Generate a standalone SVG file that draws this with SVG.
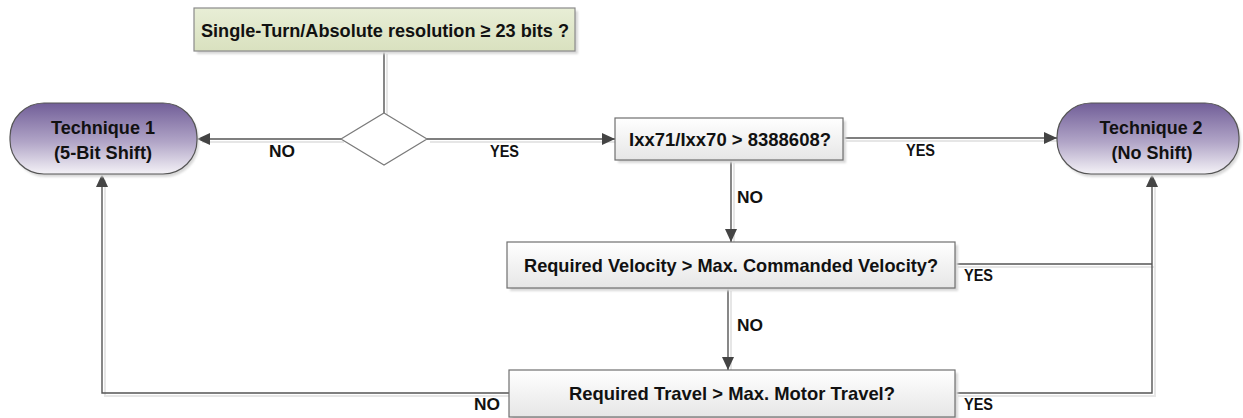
<svg xmlns="http://www.w3.org/2000/svg" width="1243" height="418" viewBox="0 0 1243 418">
  <style>
    .txt { font-family: "Liberation Sans", Arial, sans-serif; font-weight: bold; fill: #111; }
    .node { font-size: 19px; text-anchor: middle; }
    .lbl { font-size: 16px; }
    .box { fill: url(#gBox); stroke: #6f6f6f; stroke-width: 1.2; }
    .term { fill: url(#gTerm); stroke: #555; stroke-width: 1.2; }
    .shadow { fill: #d8d8d8; filter: url(#soft); }
    .wire { fill: none; stroke: #555; stroke-width: 1.4; }
    .wire-sh { fill: none; stroke: #e6e6e6; stroke-width: 2; }
  </style>
  <defs>
    <linearGradient id="gBox" x1="0" y1="0" x2="0" y2="1">
      <stop offset="0" stop-color="#ffffff"/>
      <stop offset="1" stop-color="#e6e6e6"/>
    </linearGradient>
    <linearGradient id="gTerm" x1="0" y1="0" x2="0" y2="1">
      <stop offset="0" stop-color="#715e98"/>
      <stop offset="0.55" stop-color="#b1a5c7"/>
      <stop offset="1" stop-color="#f4f2f7"/>
    </linearGradient>
    <linearGradient id="gTop" x1="0" y1="0" x2="0" y2="1">
      <stop offset="0" stop-color="#e8eed6"/>
      <stop offset="1" stop-color="#d9e1bf"/>
    </linearGradient>
    <filter id="soft" x="-5%" y="-20%" width="110%" height="140%">
      <feGaussianBlur stdDeviation="1.2"/>
    </filter>
    <marker id="arrow" markerUnits="userSpaceOnUse" markerWidth="14" markerHeight="12" viewBox="0 0 14 12" refX="13" refY="6" orient="auto">
      <path d="M0,0 L13,6 L0,12 Z" fill="#444"/>
    </marker>
  </defs>

  <!-- connectors (soft shadow pass first, then the lines) -->
  <g id="connectors">
    <g transform="translate(3,3)">
      <path class="wire-sh" d="M384,51 V113"/>
      <path class="wire-sh" d="M341,139 H199"/>
      <path class="wire-sh" d="M427,139 H612"/>
      <path class="wire-sh" d="M843,138 H1054"/>
      <path class="wire-sh" d="M731,160 V239"/>
      <path class="wire-sh" d="M728,288 V367"/>
      <path class="wire-sh" d="M955,264 H1152"/>
      <path class="wire-sh" d="M955,393 H1152 V177"/>
      <path class="wire-sh" d="M509,393 H102 V177"/>
    </g>
    <path class="wire" d="M384,51 V113"/>
    <path class="wire" d="M341,139 H197" marker-end="url(#arrow)"/>
    <path class="wire" d="M427,139 H615" marker-end="url(#arrow)"/>
    <path class="wire" d="M843,138 H1057" marker-end="url(#arrow)"/>
    <path class="wire" d="M731,160 V242" marker-end="url(#arrow)"/>
    <path class="wire" d="M728,288 V370" marker-end="url(#arrow)"/>
    <path class="wire" d="M955,264 H1152"/>
    <path class="wire" d="M955,393 H1152 V174" marker-end="url(#arrow)"/>
    <path class="wire" d="M509,393 H102 V174" marker-end="url(#arrow)"/>

    <text class="txt lbl" x="269" y="157" textLength="26" lengthAdjust="spacingAndGlyphs">NO</text>
    <text class="txt lbl" x="490" y="157" textLength="29" lengthAdjust="spacingAndGlyphs">YES</text>
    <text class="txt lbl" x="906" y="156" textLength="29" lengthAdjust="spacingAndGlyphs">YES</text>
    <text class="txt lbl" x="737" y="203" textLength="26" lengthAdjust="spacingAndGlyphs">NO</text>
    <text class="txt lbl" x="964" y="281" textLength="29" lengthAdjust="spacingAndGlyphs">YES</text>
    <text class="txt lbl" x="737" y="331" textLength="26" lengthAdjust="spacingAndGlyphs">NO</text>
    <text class="txt lbl" x="964" y="410" textLength="29" lengthAdjust="spacingAndGlyphs">YES</text>
    <text class="txt lbl" x="474" y="410" textLength="26" lengthAdjust="spacingAndGlyphs">NO</text>
  </g>

  <!-- start question -->
  <g id="start">
    <rect class="shadow" x="197" y="11" width="381" height="43"/>
    <rect x="194" y="8" width="381" height="43" fill="url(#gTop)" stroke="#8a8a8a" stroke-width="1.2"/>
    <text class="txt node" x="385" y="37" textLength="368" lengthAdjust="spacingAndGlyphs">Single-Turn/Absolute resolution ≥ 23 bits ?</text>
  </g>

  <!-- decision diamond -->
  <g id="decision">
    <path d="M384,113 L427,139 L384,165 L341,139 Z" fill="#ffffff" stroke="#7a7a7a" stroke-width="1.2"/>
  </g>

  <!-- terminal: technique 1 -->
  <g id="technique1">
    <rect class="shadow" x="12" y="106" width="187" height="71" rx="34" ry="34"/>
    <rect class="term" x="10" y="103" width="187" height="71" rx="34" ry="34"/>
    <text class="txt node" x="103" y="134" textLength="104" lengthAdjust="spacingAndGlyphs">Technique 1</text>
    <text class="txt node" x="103" y="159" textLength="98" lengthAdjust="spacingAndGlyphs">(5-Bit Shift)</text>
  </g>

  <!-- terminal: technique 2 -->
  <g id="technique2">
    <rect class="shadow" x="1059" y="106" width="182" height="71" rx="34" ry="34"/>
    <rect class="term" x="1057" y="103" width="182" height="71" rx="34" ry="34"/>
    <text class="txt node" x="1151" y="134" textLength="103" lengthAdjust="spacingAndGlyphs">Technique 2</text>
    <text class="txt node" x="1152" y="159" textLength="81" lengthAdjust="spacingAndGlyphs">(No Shift)</text>
  </g>

  <!-- ratio check -->
  <g id="ratio">
    <rect class="shadow" x="618" y="121" width="228" height="42"/>
    <rect class="box" x="615" y="118" width="228" height="42"/>
    <text class="txt node" x="730" y="146" textLength="202" lengthAdjust="spacingAndGlyphs">Ixx71/Ixx70 &gt; 8388608?</text>
  </g>

  <!-- velocity check -->
  <g id="velocity">
    <rect class="shadow" x="510" y="245" width="448" height="46"/>
    <rect class="box" x="507" y="242" width="448" height="46"/>
    <text class="txt node" x="731" y="272" textLength="414" lengthAdjust="spacingAndGlyphs">Required Velocity &gt; Max. Commanded Velocity?</text>
  </g>

  <!-- travel check -->
  <g id="travel">
    <rect class="shadow" x="512" y="373" width="446" height="47"/>
    <rect class="box" x="509" y="370" width="446" height="47"/>
    <text class="txt node" x="732" y="400" textLength="326" lengthAdjust="spacingAndGlyphs">Required Travel &gt; Max. Motor Travel?</text>
  </g>
</svg>
